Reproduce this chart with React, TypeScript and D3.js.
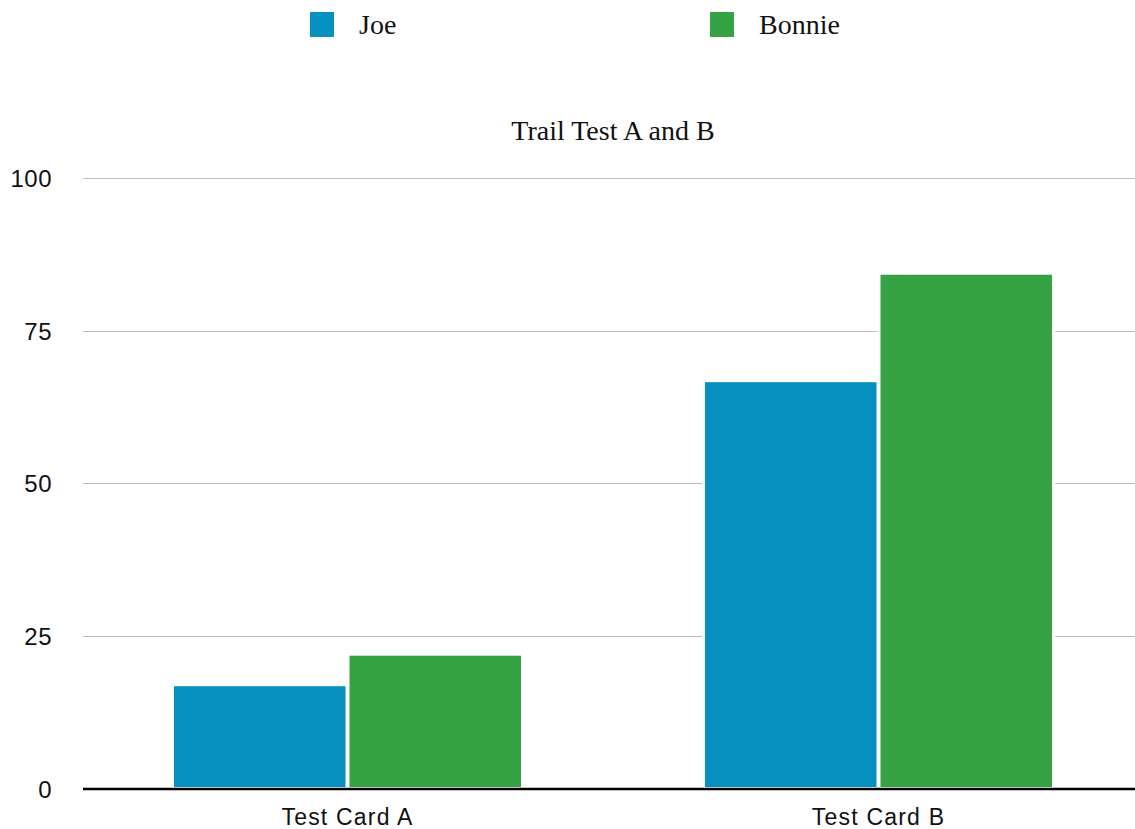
import React from "react";
import * as d3 from "d3";

const categories = ["Test Card A", "Test Card B"];
const seriesNames = ["Joe", "Bonnie"];
const joeValues = [17, 66.8];
const bonnieValues = [22, 84.4];
const yTicks = [0, 25, 50, 75, 100];
const colors = ["#0690c0", "#35a344"];
const title = "Trail Test A and B";

const W = 1135;
const H = 829;

export default function App() {
  const values = [joeValues, bonnieValues];
  const y = d3.scaleLinear().domain([0, 100]).range([788.5, 178]);
  const x0 = d3
    .scaleBand<string>()
    .domain(categories)
    .range([82, 1144])
    .paddingInner(0.339)
    .paddingOuter(0.1695);
  const x1 = d3
    .scaleBand<string>()
    .domain(seriesNames)
    .range([0, x0.bandwidth()]);
  const sans = "'Liberation Sans', Arial, sans-serif";
  const serif = "'Liberation Serif', 'Times New Roman', serif";

  return (
    <svg
      width={W}
      height={H}
      style={{ position: "absolute", left: 0, top: 0, background: "#fff" }}
    >
      {/* legend */}
      {seriesNames.map((s, i) => {
        const lx = [310, 710][i];
        return (
          <g key={s}>
            <rect x={lx} y={12} width={24} height={25} fill={colors[i]} />
            <text
              x={lx + 49}
              y={34}
              fontFamily={serif}
              fontSize={28}
              fill="#111"
            >
              {s}
            </text>
          </g>
        );
      })}
      {/* title */}
      <text
        x={613}
        y={140}
        textAnchor="middle"
        fontFamily={serif}
        fontSize={28}
        fill="#111"
      >
        {title}
      </text>
      {/* gridlines */}
      {yTicks
        .filter((t) => t !== 0)
        .map((t) => (
          <line
            key={t}
            x1={83}
            x2={W}
            y1={Math.round(y(t)) + 0.5}
            y2={Math.round(y(t)) + 0.5}
            stroke="#bdbdbd"
            strokeWidth={1}
          />
        ))}
      {/* y tick labels */}
      {yTicks.map((t) => (
        <text
          key={t}
          x={52}
          y={y(t)}
          dy="0.38em"
          textAnchor="end"
          fontFamily={sans}
          fontSize={24}
          letterSpacing={0.5}
          fill="#111"
        >
          {t}
        </text>
      ))}
      {/* bars */}
      {categories.map((c, ci) => (
        <g key={c} transform={`translate(${x0(c)},0)`}>
          {seriesNames.map((s, si) => {
            const v = values[si][ci];
            const bx = (x1(s) as number) + 0.5;
            const bw = x1.bandwidth() - 1;
            return (
              <rect
                key={s}
                x={bx}
                y={y(v)}
                width={bw}
                height={y(0) - y(v)}
                fill={colors[si]}
                stroke="#fff"
                strokeWidth={3}
              />
            );
          })}
        </g>
      ))}
      {/* baseline */}
      <line x1={83} x2={W} y1={789} y2={789} stroke="#000" strokeWidth={2.5} />
      {/* x labels */}
      {categories.map((c) => (
        <text
          key={c}
          x={(x0(c) as number) + x0.bandwidth() / 2}
          y={825}
          textAnchor="middle"
          fontFamily={sans}
          fontSize={23}
          letterSpacing={1.2}
          fill="#111"
        >
          {c}
        </text>
      ))}
    </svg>
  );
}
